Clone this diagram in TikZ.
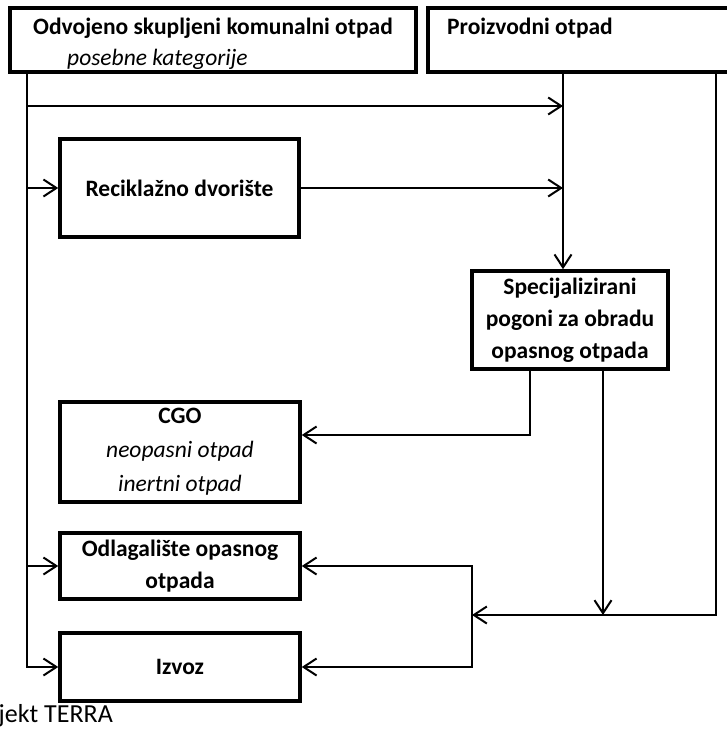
\documentclass[tikz,border=0pt]{standalone}
\usepackage{fontspec}
\setmainfont{Carlito}
\usetikzlibrary{arrows.meta}
\begin{document}
\begin{tikzpicture}[x=1pt,y=-1pt,
  box/.style={draw, line width=3.5pt, rectangle, inner sep=0pt, align=center,
    font=\fontsize{23.5}{32}\selectfont\bfseries},
  boldtxt/.style={inner sep=0pt, font=\fontsize{23.5}{32}\selectfont\bfseries},
  ittxt/.style={inner sep=0pt, font=\fontsize{23.5}{32}\selectfont\itshape},
  arr/.style={line width=2pt, -{Straight Barb[length=13pt,width=17pt]}}]
\useasboundingbox (0,0) rectangle (727,731);

% top boxes
\node[box, minimum width=406pt, minimum height=64pt] (b1) at (213,40) {};
\node[boldtxt, anchor=base west] (t1) at (33,34) {Odvojeno skupljeni komunalni otpad};
\node[ittxt, anchor=base west] (t2) at (67,65) {posebne kategorije};
\node[box, minimum width=332pt, minimum height=64pt] (b2) at (594,40) {};
\node[boldtxt, anchor=base west] (t3) at (447,34) {Proizvodni otpad};

% other boxes
\node[box, minimum width=239pt, minimum height=98pt] (rec) at (179.5,188) {Reciklažno dvorište};
\node[box, minimum width=196pt, minimum height=98pt] (spec) at (570,320)
  {Specijalizirani\\pogoni za obradu\\opasnog otpada};
\node[box, minimum width=240pt, minimum height=100pt, font=\fontsize{23.5}{34}\selectfont\bfseries] (cgo) at (180,452)
  {CGO\\{\mdseries\itshape neopasni otpad}\\{\mdseries\itshape inertni otpad}};
\node[box, minimum width=240pt, minimum height=66pt] (odl) at (180,566)
  {Odlagalište opasnog\\otpada};
\node[box, minimum width=240pt, minimum height=68pt] (izv) at (180,667) {Izvoz};

\node[inner sep=0pt, anchor=base east, font=\fontsize{26}{30}\selectfont] (src) at (113,722) {Projekt TERRA};

% helper coordinates
\coordinate (tx) at (27,0);
\coordinate (j1) at (563,106);
\coordinate (rx) at (716,0);
\coordinate (c1) at (530,435);
\coordinate (j2) at (603,615);
\coordinate (j3) at (472,615);

% left trunk
\draw[arr] (b1.south -| tx) |- (izv.west);
\draw[arr] (rec.west -| tx) -- (rec.west);
\draw[arr] (odl.west -| tx) -- (odl.west);
\draw[arr] (j1 -| tx) -- (j1);

% column to specialised plants
\draw[arr] (j1 |- b2.south) -- (j1 |- spec.north);
\draw[arr] (rec.east) -- (rec.east -| j1);

% from specialised plants
\draw[arr] (c1 |- spec.south) |- (cgo.east |- c1);
\draw[arr] (j2 |- spec.south) -- (j2);

% right line from Proizvodni otpad
\draw[arr] (b2.south -| rx) |- (j3);
\draw[arr] (j3) |- (odl.east);
\draw[arr] (j3) |- (izv.east);
\end{tikzpicture}
\end{document}
